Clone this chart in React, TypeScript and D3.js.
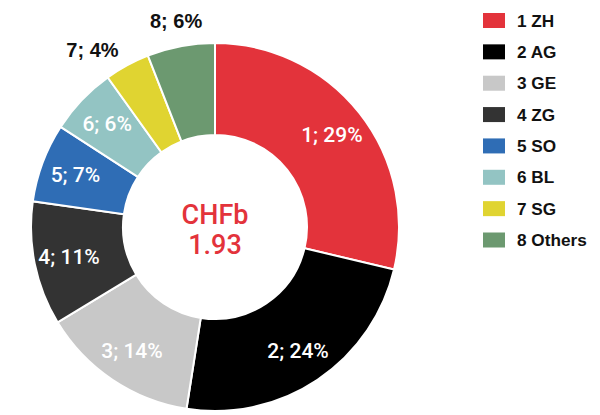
import React from "react";
import * as d3 from "d3";

const categories = ["1 ZH", "2 AG", "3 GE", "4 ZG", "5 SO", "6 BL", "7 SG", "8 Others"];
const ids = ["1", "2", "3", "4", "5", "6", "7", "8"];
const shares = [29, 24, 14, 11, 7, 6, 4, 6];
const colors = ["#E3333B", "#000000", "#C8C8C8", "#333333", "#2F6DB5", "#93C4C3", "#E0D431", "#6C9970"];
const labelOutside = [false, false, false, false, false, false, true, true];
const centerLines = ["CHFb", "1.93"];

const W = 600;
const H = 415;
const cx = 215;
const cy = 227;
const rOuter = 184;
const rInner = 92;
const rLabelIn = 149;
const FONT = "'Liberation Sans', Arial, Helvetica, sans-serif";
const FONT_MED = "Roboto, 'Liberation Sans', Arial, sans-serif";

export default function App() {
  const pie = d3.pie<number>().sort(null).value((d) => d);
  const arcs = pie(shares);
  const arcGen = d3.arc<d3.PieArcDatum<number>>().innerRadius(rInner).outerRadius(rOuter);
  const labelArcIn = d3.arc<d3.PieArcDatum<number>>().innerRadius(rLabelIn).outerRadius(rLabelIn);

  const legendY = d3.scaleLinear().domain([0, categories.length - 1]).range([20.5, 240]);

  return (
    <svg width={W} height={H} style={{ position: "absolute", left: 0, top: 0, background: "#fff" }}>
      <g transform={`translate(${cx},${cy})`}>
        {arcs.map((a, i) => (
          <path key={i} d={arcGen(a) || ""} fill={colors[i]} stroke="#fff" strokeWidth={2} />
        ))}
        {arcs.map((a, i) => {
          const out = labelOutside[i];
          const mid = (a.startAngle + a.endAngle) / 2;
          let x: number, y: number, anchor = "middle";
          if (out) {
            // outside labels: end-anchored when angled well off vertical
            const far = Math.abs(Math.sin(mid)) > 0.3;
            const r = far ? 202 : 210;
            x = Math.sin(mid) * r;
            y = -Math.cos(mid) * r;
            if (far) anchor = "end";
          } else {
            [x, y] = labelArcIn.centroid(a);
          }
          return (
            <text
              key={"l" + i}
              x={x}
              y={y}
              textAnchor={anchor}
              dominantBaseline="central"
              fontFamily={out ? FONT : FONT_MED}
              fontWeight={out ? 700 : 500}
              fontSize={out ? 20 : 21}
              fill={out ? "#111" : "#fff"}
            >
              {`${ids[i]}; ${shares[i]}%`}
            </text>
          );
        })}
        <text x={0} y={-3} textAnchor="middle" fontFamily={FONT_MED} fontWeight={500} fontSize={27} fill="#E3333B">
          {centerLines[0]}
        </text>
        <text x={0} y={27} textAnchor="middle" fontFamily={FONT_MED} fontWeight={500} fontSize={27} fill="#E3333B">
          {centerLines[1]}
        </text>
      </g>
      <g>
        {categories.map((c, i) => (
          <g key={c} transform={`translate(483,${legendY(i)})`}>
            <rect x={0} y={-7.5} width={22} height={15} fill={colors[i]} />
            <text x={34} y={0} dominantBaseline="central" fontFamily={FONT} fontWeight={700} fontSize={17.2} fill="#111">
              {c}
            </text>
          </g>
        ))}
      </g>
    </svg>
  );
}
